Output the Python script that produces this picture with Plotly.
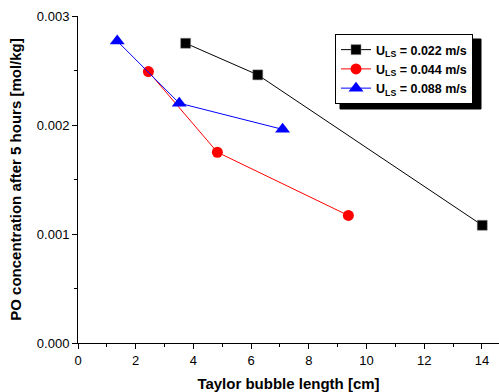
import plotly.graph_objects as go

# Data
x_022 = [3.73, 6.23, 14.01]
y_022 = [0.00275, 0.00246, 0.00108]
x_044 = [2.44, 4.83, 9.37]
y_044 = [0.00249, 0.00175, 0.00117]
x_088 = [1.36, 3.51, 7.09]
y_088 = [0.00277, 0.00220, 0.00196]
names = ["<b>U<sub>LS</sub> = 0.022 m/s</b>",
         "<b>U<sub>LS</sub> = 0.044 m/s</b>",
         "<b>U<sub>LS</sub> = 0.088 m/s</b>"]
x_ticks = [0, 2, 4, 6, 8, 10, 12, 14]
y_ticks = [0.000, 0.001, 0.002, 0.003]

fig = go.Figure()
fig.add_trace(go.Scatter(x=x_022, y=y_022, mode="lines+markers", name=names[0],
                         line=dict(color="black", width=1),
                         marker=dict(symbol="square", size=10, color="black",
                                     line=dict(color="#888", width=0.5))))
fig.add_trace(go.Scatter(x=x_044, y=y_044, mode="lines+markers", name=names[1],
                         line=dict(color="red", width=1),
                         marker=dict(symbol="circle", size=11, color="red",
                                     line=dict(width=0))))
fig.add_trace(go.Scatter(x=x_088, y=y_088, mode="lines+markers", name=names[2],
                         line=dict(color="blue", width=1),
                         marker=dict(symbol="triangle-up", size=13, color="blue",
                                     line=dict(width=0))))

L, R, T, B = 78, 0, 16, 49
W, H = 499, 392
pw, ph = W - L - R, H - T - B

def px(xp):
    return (xp - L) / pw

def py(yp):
    return (H - B - yp) / ph

FONT = "Arial, Liberation Sans, sans-serif"
axis_common = dict(showline=True, linecolor="black", linewidth=1,
                   ticks="outside", ticklen=5, tickcolor="black", tickwidth=1,
                   showgrid=False, zeroline=False,
                   tickfont=dict(family=FONT, size=13, color="black"),
                   minor=dict(ticks="outside", ticklen=3, tickcolor="black", tickwidth=1))

fig.update_xaxes(range=[0, 14.59], tickvals=x_ticks, ticktext=[str(v) for v in x_ticks],
                 title=dict(text="<b>Taylor bubble length [cm]</b>",
                            font=dict(family=FONT, size=15, color="black"),
                            standoff=12),
                 **axis_common)
fig.update_xaxes(minor=dict(dtick=1))
fig.update_yaxes(range=[0, 0.003], tickvals=y_ticks, ticktext=["%.3f" % v for v in y_ticks],
                 title=dict(text="<b>PO concentration after 5 hours [mol/kg]</b>",
                            font=dict(family=FONT, size=15, color="black"),
                            standoff=11),
                 **axis_common)
fig.update_yaxes(minor=dict(dtick=0.0005, tick0=0))

fig.update_layout(
    width=W, height=H,
    margin=dict(l=L, r=R, t=T, b=B),
    paper_bgcolor="white", plot_bgcolor="white",
    showlegend=True,
    legend=dict(x=px(335), y=py(34), xanchor="left", yanchor="top",
                bgcolor="white", bordercolor="black", borderwidth=1,
                font=dict(family=FONT, size=12.5, color="black"),
                itemwidth=30, tracegroupgap=0),
    shapes=[dict(type="rect", xref="paper", yref="paper",
                 x0=px(340), x1=px(481), y0=py(109), y1=py(39),
                 fillcolor="black", opacity=1, line=dict(color="black", width=1),
                 layer="above")],
)

fig.write_html("out.html", config={"displayModeBar": False},
               post_script="document.body.style.margin='0';document.body.style.padding='0';document.body.style.overflow='hidden';")
